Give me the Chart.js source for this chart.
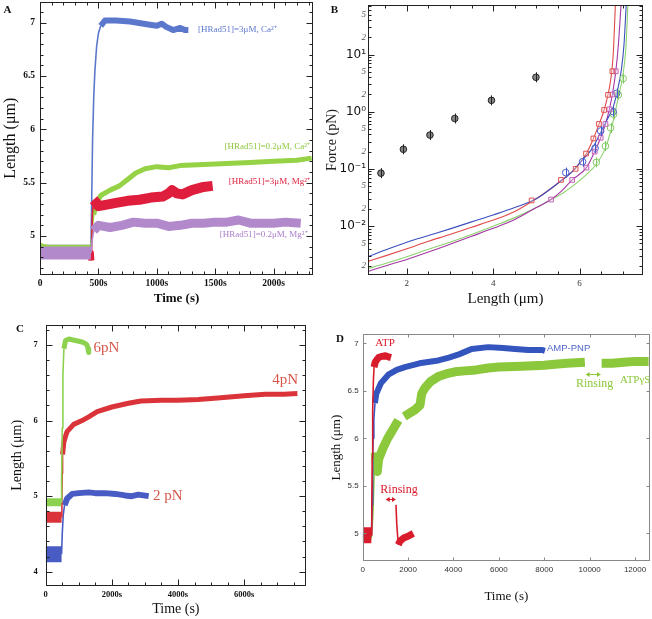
<!DOCTYPE html>
<html><head><meta charset="utf-8">
<script src="https://cdn.jsdelivr.net/npm/chart.js@4/dist/chart.umd.min.js"></script>
<style>
body{margin:0;background:#fff;width:652px;height:619px;position:relative;overflow:hidden}
canvas{position:absolute}
.lt{position:absolute;font:bold 11px 'Liberation Serif',serif;transform:translate(-50%,-50%);color:#111}
</style></head><body>
<canvas id="cA" width="326" height="310" style="left:0;top:0"></canvas>
<canvas id="cB" width="330" height="310" style="left:322px;top:0"></canvas>
<canvas id="cC" width="326" height="314" style="left:0;top:305px"></canvas>
<canvas id="cD" width="326" height="314" style="left:326px;top:305px"></canvas>
<span class="lt" style="left:7.5px;top:9px">A</span>
<span class="lt" style="left:334.5px;top:9px">B</span>
<span class="lt" style="left:20px;top:328px">C</span>
<span class="lt" style="left:340px;top:338px">D</span>
<script>
// ================= DATA =================
// Panel A : length (µm) vs time (s)
const tA_blue   = [0,100,200,300,400,436,442,450,460,470,485,500,520,556,650,770,940,1000,1042,1080,1140,1200,1240,1270];
const yA_blue   = [4.9,4.9,4.9,4.9,4.9,4.9,5.3,5.9,6.3,6.55,6.78,6.9,6.97,7.02,7.02,7.01,6.98,6.97,6.99,6.96,6.93,6.95,6.93,6.93];
const tA_green  = [0,20,60,150,300,436,445,460,480,520,600,680,750,820,900,1000,1100,1200,1400,1600,1800,2000,2200,2325];
const yA_green  = [4.92,4.91,4.9,4.9,4.9,4.9,5.05,5.2,5.3,5.38,5.43,5.47,5.53,5.59,5.63,5.65,5.64,5.66,5.67,5.68,5.69,5.7,5.71,5.73];
const tA_red    = [0,436,440,448,458,475,500,550,650,750,850,950,1050,1100,1130,1170,1220,1300,1400,1478];
const yA_red    = [4.84,4.84,4.77,5.2,5.34,5.32,5.28,5.29,5.31,5.33,5.34,5.36,5.37,5.40,5.43,5.40,5.39,5.43,5.46,5.47];
const tA_purple = [0,100,200,300,436,445,460,500,600,700,800,900,1000,1100,1200,1300,1400,1500,1600,1700,1800,1900,2000,2100,2232];
const yA_purple = [4.84,4.84,4.84,4.84,4.84,4.95,5.05,5.1,5.08,5.1,5.13,5.12,5.12,5.09,5.1,5.12,5.12,5.13,5.13,5.15,5.12,5.12,5.12,5.13,5.12];
const xTicksA = [0,500,1000,1500,2000];
const xLabelsA = ['0','500s','1000s','1500s','2000s'];
const yTicksA = [5,5.5,6,6.5,7];
const yLabelsA = ['5','5.5','6','6.5','7'];

// Panel B : force (pN) vs length (µm)
const L_black  = [1.40,1.92,2.535,3.11,3.96,4.99];
const F_black  = [0.084,0.22,0.39,0.76,1.58,4.0];
const L_redSq  = [4.89,5.57,5.91,6.15,6.32,6.45,6.57,6.66,6.76];
const F_redSq  = [0.028,0.064,0.10,0.185,0.34,0.61,1.07,1.97,5.1];
const L_purSq  = [5.34,5.83,6.16,6.35,6.49,6.60,6.69,6.76,6.84];
const F_purSq  = [0.029,0.064,0.105,0.2,0.35,0.61,1.1,2.0,5.1];
const L_blueC  = [5.68,6.07,6.36,6.49,6.78,6.86];
const F_blueC  = [0.086,0.133,0.23,0.46,1.0,2.1];
const L_greenC = [6.39,6.60,6.72,6.79,6.90,7.01];
const F_greenC = [0.13,0.25,0.52,0.9,1.97,3.8];
const L_blueFit  = [1.1,1.5,2,2.5,3,3.5,4,4.5,5,5.5,5.8,6,6.3,6.5,6.65,6.78,6.88,6.97,7.03,7.08];
const F_blueFit  = [0.0029,0.0038,0.0052,0.0068,0.0089,0.0118,0.0156,0.021,0.030,0.056,0.085,0.126,0.23,0.45,0.75,1.2,2.4,5.5,15,72];
const L_redFit   = [1.1,1.5,2,2.5,3,3.5,4,4.5,4.9,5.3,5.6,5.9,6.15,6.3,6.45,6.57,6.66,6.73,6.78,6.83];
const F_redFit   = [0.0024,0.003,0.004,0.0054,0.0071,0.0095,0.0127,0.018,0.027,0.043,0.065,0.10,0.18,0.31,0.6,1.07,2.0,4.0,10,72];
const L_greenFit = [1.1,1.5,2,2.5,3,3.5,4,4.5,5,5.34,5.6,6,6.2,6.39,6.6,6.72,6.8,6.9,7.0,7.07,7.12];
const F_greenFit = [0.0018,0.0022,0.0029,0.0039,0.0052,0.0071,0.0099,0.014,0.021,0.029,0.037,0.062,0.085,0.12,0.23,0.45,0.8,1.8,4.2,12,72];
const L_purFit   = [1.1,1.5,2,2.5,3,3.5,4,4.5,5,5.34,5.6,5.83,6.16,6.35,6.49,6.6,6.69,6.76,6.84,6.9,6.96];
const F_purFit   = [0.0016,0.002,0.0026,0.0035,0.0048,0.0066,0.0091,0.013,0.021,0.029,0.042,0.064,0.105,0.2,0.35,0.61,1.1,2.0,5.1,15,72];
const xTicksB = [2,4,6];
const xLabelsB = ['2','4','6'];
const yTicksB = [0.002,0.005,0.01,0.02,0.05,0.1,0.2,0.5,1,2,5,10,20,50];
const yLabelsB = ['2','5','10⁻²','2','5','10⁻¹','2','5','10⁰','2','5','10¹','2','5'];

// Panel C
const tC_green = [0,200,470,480,500,520,550,600,700,800,900,1000,1100,1200,1250,1280,1300];
const yC_green = [4.92,4.92,4.92,5.2,5.9,6.6,6.95,7.06,7.08,7.07,7.06,7.05,7.04,7.02,7.0,6.95,6.9];
const tC_red   = [0,200,480,490,500,510,550,640,845,1100,1300,1557,2000,2500,2880,3500,4000,4610,5200,6000,6640,7200,7610];
const yC_red   = [4.72,4.72,4.72,5.0,5.3,5.55,5.72,5.85,5.95,6.0,6.05,6.12,6.18,6.23,6.26,6.27,6.27,6.28,6.3,6.33,6.35,6.35,6.36];
const tC_blue  = [0,200,480,500,530,570,650,800,1000,1300,1500,1800,2100,2400,2600,2800,3113];
const yC_blue  = [4.23,4.23,4.23,4.5,4.75,4.88,4.97,5.03,5.04,5.05,5.04,5.04,5.03,5.01,5.0,5.02,5.0];
const xTicksC = [0,2000,4000,6000];
const xLabelsC = ['0','2000s','4000s','6000s'];
const yTicksC = [4,5,6,7];
const yLabelsC = ['4','5','6','7'];

// Panel D
const tD_red   = [0,100,200,380,400,420,440,470,500,550,600,700,800,1000,1100,1247,1350,1467,1500,1568,1650,1800,2000,2229];
const yD_red   = [4.98,4.98,4.98,4.98,5.3,5.8,6.3,6.6,6.75,6.8,6.82,6.85,6.86,6.87,6.86,6.85,null,5.3,5.1,4.88,4.92,4.95,4.97,5.0];
const tD_blue  = [0,380,420,440,460,490,540,600,800,1130,1500,1860,2500,3330,3800,4200,4500,4800,5530,6200,6710,7300,7890,8030];
const yD_blue  = [4.98,4.98,5.3,5.8,6.0,6.2,6.37,6.47,6.58,6.67,6.72,6.75,6.79,6.82,6.85,6.88,6.91,6.94,6.96,6.95,6.94,6.93,6.93,6.92];
const tD_green = [0,380,450,500,550,600,643,700,900,1100,1300,1570,1650,1830,2100,2300,2525,2600,2740,3000,3330,3700,4065,4500,5000,5530,6000,7000,8000,8470,9000,9790,10100,10530,11000,11500,12000,12600];
const yD_green = [4.95,4.95,5.2,5.6,5.85,5.75,5.65,5.78,5.9,6.0,6.08,6.19,null,6.23,6.27,6.3,6.35,6.47,6.53,6.6,6.65,6.68,6.7,6.71,6.72,6.74,6.75,6.76,6.77,6.78,6.79,6.8,null,6.79,6.79,6.8,6.81,6.81];
const xTicksD = [0,2000,4000,6000,8000,10000,12000];
const xLabelsD = ['0','2000','4000','6000','8000','10000','12000'];
const yTicksD = [5,5.5,6,6.5,7];
const yLabelsD = ['5','5.5','6','6.5','7'];

// ================= HELPERS =================
const SERIF = "'Liberation Serif', serif";
const SANS = "'Liberation Sans', Arial, sans-serif";
const DJS = "'DejaVu Sans', sans-serif";
const pts = (xs, ys) => xs.map((x, i) => ({x, y: ys[i]}));
const range = (a, b, s) => { const r = []; for (let v = a; v <= b + 1e-9; v += s) r.push(+v.toFixed(6)); return r; };

// thin line only inside the given x windows (fast rises); thick noise band before first window / after
function trace(xs, ys, color, wBase, wPlat, windows) {
  const j0 = windows[0][0];
  return {
    data: pts(xs, ys), borderColor: color, backgroundColor: color, borderWidth: wPlat,
    pointRadius: 0, borderCapStyle: 'butt', borderJoinStyle: 'round', spanGaps: false, tension: 0,
    segment: { borderWidth: c => {
      const a = c.p0.parsed.x, b = c.p1.parsed.x;
      for (const w of windows) if (a >= w[0] && b <= w[1]) return 1.6;
      return b <= j0 ? wBase : wPlat;
    } }
  };
}
function axis(type, min, max, ticks, labels, font, color, pad, size, isX, title) {
  return {
    type, min, max, grid: {display: false, drawTicks: false}, border: {display: false},
    afterBuildTicks: s => { s.ticks = ticks.map(v => ({value: v})); },
    ticks: {autoSkip: false, maxRotation: 0, minRotation: 0, padding: pad, font, color, callback: (v, i) => labels[i]},
    afterFit: s => { if (isX) s.height = size; else s.width = size; s.paddingLeft = 0; s.paddingRight = 0; s.paddingTop = 0; s.paddingBottom = 0; },
    title
  };
}
function framePlugin(o) {
  return { id: 'frame', afterDatasetsDraw(chart) {
    const {ctx, chartArea: a, scales: {x, y}} = chart;
    ctx.save(); ctx.strokeStyle = o.color; ctx.lineWidth = 1;
    const L = Math.round(a.left) + 0.5, R = Math.round(a.right) - 0.5, T = Math.round(a.top) + 0.5, B = Math.round(a.bottom) - 0.5;
    ctx.strokeRect(L, T, R - L, B - T);
    ctx.beginPath();
    const tx = (v, len) => { const p = Math.round(x.getPixelForValue(v)) + 0.5; if (p < L || p > R) return;
      ctx.moveTo(p, B); ctx.lineTo(p, B - len); ctx.moveTo(p, T); ctx.lineTo(p, T + len); };
    const ty = (v, len) => { const p = Math.round(y.getPixelForValue(v)) + 0.5; if (p < T || p > B) return;
      ctx.moveTo(L, p); ctx.lineTo(L + len, p); ctx.moveTo(R, p); ctx.lineTo(R - len, p); };
    o.xMaj.forEach(v => tx(v, o.lMaj)); (o.xMin || []).forEach(v => tx(v, o.lMin));
    o.yMaj.forEach(v => ty(v, o.lMaj)); (o.yMin || []).forEach(v => ty(v, o.lMin));
    ctx.stroke(); ctx.restore();
  }};
}
function notePlugin(notes, arrows) {
  return { id: 'notes', afterDatasetsDraw(chart) {
    const {ctx, scales: {x, y}} = chart;
    notes.forEach(n => { ctx.save(); ctx.font = n.font; ctx.fillStyle = n.color; ctx.textAlign = n.align || 'left';
      ctx.textBaseline = 'middle'; ctx.fillText(n.text, x.getPixelForValue(n.x), y.getPixelForValue(n.y)); ctx.restore(); });
    (arrows || []).forEach(r => { const x0 = x.getPixelForValue(r.x0), x1 = x.getPixelForValue(r.x1), yy = Math.round(y.getPixelForValue(r.y)) + 0.5;
      ctx.save(); ctx.strokeStyle = r.color; ctx.fillStyle = r.color; ctx.lineWidth = 1;
      ctx.beginPath(); ctx.moveTo(x0 + 2, yy); ctx.lineTo(x1 - 2, yy); ctx.stroke();
      ctx.beginPath(); ctx.moveTo(x0, yy); ctx.lineTo(x0 + 4, yy - 2.5); ctx.lineTo(x0 + 4, yy + 2.5); ctx.closePath(); ctx.fill();
      ctx.beginPath(); ctx.moveTo(x1, yy); ctx.lineTo(x1 - 4, yy - 2.5); ctx.lineTo(x1 - 4, yy + 2.5); ctx.closePath(); ctx.fill();
      ctx.restore(); });
  }};
}
const errPlugin = { id: 'err', afterDatasetsDraw(chart) {
  const ctx = chart.ctx;
  chart.data.datasets.forEach((ds, i) => { if (!ds.errBar) return;
    chart.getDatasetMeta(i).data.forEach(p => { ctx.save(); ctx.strokeStyle = ds.borderColor; ctx.lineWidth = 1;
      ctx.beginPath(); ctx.moveTo(Math.round(p.x) + 0.5, p.y - ds.errBar); ctx.lineTo(Math.round(p.x) + 0.5, p.y + ds.errBar); ctx.stroke(); ctx.restore(); });
  });
}};
const base = (pad) => ({ responsive: false, animation: false, devicePixelRatio: 1, layout: {padding: pad},
  plugins: {legend: {display: false}, tooltip: {enabled: false}} });

// ================= PANEL A =================
const cA = { blue: 'rgb(92,120,205)', green: 'rgb(150,210,70)', red: 'rgb(222,30,60)', purple: 'rgb(178,138,204)' };
new Chart(document.getElementById('cA'), {
  type: 'line',
  data: { datasets: [
    trace(tA_purple, yA_purple, cA.purple, 13, 9, [[436, 460]]),
    trace(tA_red, yA_red, cA.red, 6, 10, [[440, 458]]),
    trace(tA_green, yA_green, cA.green, 4, 5, [[436, 460]]),
    trace(tA_blue, yA_blue, cA.blue, 4, 6, [[436, 520]])
  ]},
  options: Object.assign(base({left: 0, right: 13, top: 1.5, bottom: 0}), {
    scales: {
      x: axis('linear', 0, 2337, xTicksA, xLabelsA, {family: SERIF, size: 9.5, weight: 'bold'}, '#111', 3, 35, true,
        {display: true, text: 'Time (s)', font: {family: SERIF, size: 13, weight: 'bold'}, color: '#111', padding: {top: 0, bottom: 4}}),
      y: axis('linear', 4.6345, 7.198, yTicksA, yLabelsA, {family: SERIF, size: 9.5, weight: 'bold'}, '#111', 5, 40, false,
        {display: true, text: 'Length (μm)', font: {family: SERIF, size: 16}, color: '#111', padding: {top: 1, bottom: 0}})
    }
  }),
  plugins: [
    framePlugin({color: '#222', xMaj: xTicksA, xMin: range(0, 2300, 100), yMaj: yTicksA, yMin: range(4.7, 7.2, 0.1), lMaj: 6, lMin: 3}),
    notePlugin([
      {text: '[HRad51]=3μM, Ca²⁺', x: 1353, y: 6.93, color: cA.blue, font: `9px ${SERIF}`},
      {text: '[HRad51]=0.2μM, Ca²⁺', x: 2310, y: 5.834, color: 'rgb(140,200,60)', font: `9px ${SERIF}`, align: 'right'},
      {text: '[HRad51]=3μM, Mg²⁺', x: 2310, y: 5.506, color: cA.red, font: `9px ${SERIF}`, align: 'right'},
      {text: '[HRad51]=0.2μM, Mg²⁺', x: 2290, y: 5.01, color: 'rgb(170,125,200)', font: `9px ${SERIF}`, align: 'right'}
    ])
  ]
});

// ================= PANEL B =================
const cB = { blue: 'rgb(60,80,190)', red: 'rgb(225,75,75)', green: 'rgb(140,210,110)', purple: 'rgb(165,55,165)' };
const fit = (xs, ys, c) => ({data: pts(xs, ys), borderColor: c, borderWidth: 1.1, pointRadius: 0, cubicInterpolationMode: 'monotone', fill: false});
const mk = (xs, ys, c, style, fillc, err) => ({data: pts(xs, ys), showLine: false, borderColor: c, backgroundColor: fillc,
  pointStyle: style, pointRadius: 3.3, pointBorderWidth: 1, errBar: err});
new Chart(document.getElementById('cB'), {
  type: 'line',
  data: { datasets: [
    mk(L_black, F_black, '#222', 'circle', 'rgba(120,120,120,0.9)', 5),
    mk(L_redSq, F_redSq, 'rgb(220,80,80)', 'rect', 'rgba(255,255,255,0.3)', 0),
    mk(L_purSq, F_purSq, 'rgb(195,95,180)', 'rect', 'rgba(255,255,255,0.3)', 0),
    mk(L_blueC, F_blueC, 'rgb(70,90,200)', 'circle', 'rgba(255,255,255,0.3)', 5),
    mk(L_greenC, F_greenC, 'rgb(130,200,100)', 'circle', 'rgba(255,255,255,0.3)', 5),
    fit(L_blueFit, F_blueFit, cB.blue),
    fit(L_redFit, F_redFit, cB.red),
    fit(L_purFit, F_purFit, cB.purple),
    fit(L_greenFit, F_greenFit, cB.green)
  ]},
  options: Object.assign(base({left: 0, right: 9, top: 1.5, bottom: 0}), {
    scales: {
      x: axis('linear', 1.1, 7.47, xTicksB, xLabelsB, {family: SERIF, size: 9}, '#333', 3, 35, true,
        {display: true, text: 'Length (μm)', font: {family: SERIF, size: 15}, color: '#111', padding: {top: 0, bottom: 2}}),
      y: axis('logarithmic', 0.001387, 73.6, yTicksB, yLabelsB,
        c => (yLabelsB[c.index] || '').length > 1 ? {family: DJS, size: 12} : {family: SERIF, size: 9, style: 'italic'},
        c => (yLabelsB[c.index] || '').length > 1 ? '#111' : '#555', 2, 46, false,
        {display: true, text: 'Force (pN)', font: {family: SERIF, size: 14}, color: '#222', padding: {top: 2, bottom: 0}})
    }
  }),
  plugins: [
    framePlugin({color: '#222', xMaj: xTicksB, xMin: range(1.5, 7, 0.5), yMaj: [0.01, 0.1, 1, 10],
      yMin: [2,3,4,5,6,7,8,9].flatMap(m => [m * 1e-3, m * 1e-2, m * 1e-1, m, m * 10]), lMaj: 6, lMin: 3}),
    errPlugin
  ]
});

// ================= PANEL C =================
const cC = { green: 'rgb(140,210,80)', red: 'rgb(218,52,58)', blue: 'rgb(72,92,195)', lab: 'rgb(214,86,74)' };
new Chart(document.getElementById('cC'), {
  type: 'line',
  data: { datasets: [
    trace(tC_green, yC_green, cC.green, 8, 5, [[470, 550]]),
    trace(tC_red, yC_red, cC.red, 11, 5, [[480, 510]]),
    trace(tC_blue, yC_blue, cC.blue, 16, 6, [[480, 570]])
  ]},
  options: Object.assign(base({left: 0, right: 20, top: 20, bottom: 0}), {
    scales: {
      x: axis('linear', 0, 7870, xTicksC, xLabelsC, {family: SERIF, size: 8.5, weight: 'bold'}, '#111', 4, 33.3, true,
        {display: true, text: 'Time (s)', font: {family: SERIF, size: 14}, color: '#111', padding: {top: 0, bottom: 1.5}}),
      y: axis('linear', 3.815, 7.265, yTicksC, yLabelsC, {family: SERIF, size: 8.5, weight: 'bold'}, '#111', 8, 45.7, false,
        {display: true, text: 'Length (μm)', font: {family: SERIF, size: 14}, color: '#111', padding: {top: 8.5, bottom: 0}})
    }
  }),
  plugins: [
    framePlugin({color: '#222', xMaj: xTicksC, xMin: range(0, 7500, 500), yMaj: yTicksC, yMin: range(3.8, 7.2, 0.2), lMaj: 6, lMin: 3}),
    notePlugin([
      {text: '6pN', x: 1444, y: 6.96, color: cC.lab, font: `15px ${SERIF}`},
      {text: '4pN', x: 6850, y: 6.54, color: cC.lab, font: `15px ${SERIF}`},
      {text: '2 pN', x: 3246, y: 5.0, color: cC.lab, font: `15px ${SERIF}`}
    ])
  ]
});

// ================= PANEL D =================
const cD = { red: 'rgb(216,28,44)', blue: 'rgb(52,84,190)', green: 'rgb(140,200,60)', lblue: 'rgb(80,100,200)' };
new Chart(document.getElementById('cD'), {
  type: 'line',
  data: { datasets: [
    trace(tD_red, yD_red, cD.red, 16, 7, [[380, 500], [1467, 1568]]),
    trace(tD_blue, yD_blue, cD.blue, 4, 6, [[380, 540]]),
    trace(tD_green, yD_green, cD.green, 4, 9, [[380, 550]])
  ]},
  options: Object.assign(base({left: 0, right: 2, top: 29.3, bottom: 0}), {
    scales: {
      x: axis('linear', 0, 12661, xTicksD, xLabelsD, {family: SANS, size: 8}, '#333', 4, 58, true,
        {display: true, text: 'Time (s)', font: {family: SERIF, size: 13}, color: '#111', padding: {top: 0, bottom: 15}}),
      y: axis('linear', 4.709, 7.095, yTicksD, yLabelsD, {family: SANS, size: 8}, '#333', 4, 36.7, false,
        {display: true, text: 'Length (μm)', font: {family: SERIF, size: 13}, color: '#111', padding: {top: 3, bottom: 0}})
    }
  }),
  plugins: [
    framePlugin({color: '#888', xMaj: xTicksD, yMaj: yTicksD, lMaj: 3}),
    notePlugin([
      {text: 'ATP', x: 982, y: 7.0, color: cD.red, font: `11px ${SERIF}`, align: 'center'},
      {text: 'AMP-PNP', x: 8119, y: 6.947, color: cD.lblue, font: `9.5px ${SANS}`},
      {text: 'Rinsing', x: 10220, y: 6.57, color: cD.green, font: `12px ${SERIF}`, align: 'center'},
      {text: 'ATPγS', x: 11335, y: 6.614, color: cD.green, font: `11px ${SERIF}`},
      {text: 'Rinsing', x: 1599, y: 5.456, color: cD.red, font: `12px ${SERIF}`, align: 'center'}
    ], [
      {x0: 9824, x1: 10498, y: 6.674, color: cD.green},
      {x0: 1013, x1: 1467, y: 5.361, color: cD.red}
    ])
  ]
});
</script>
</body></html>
